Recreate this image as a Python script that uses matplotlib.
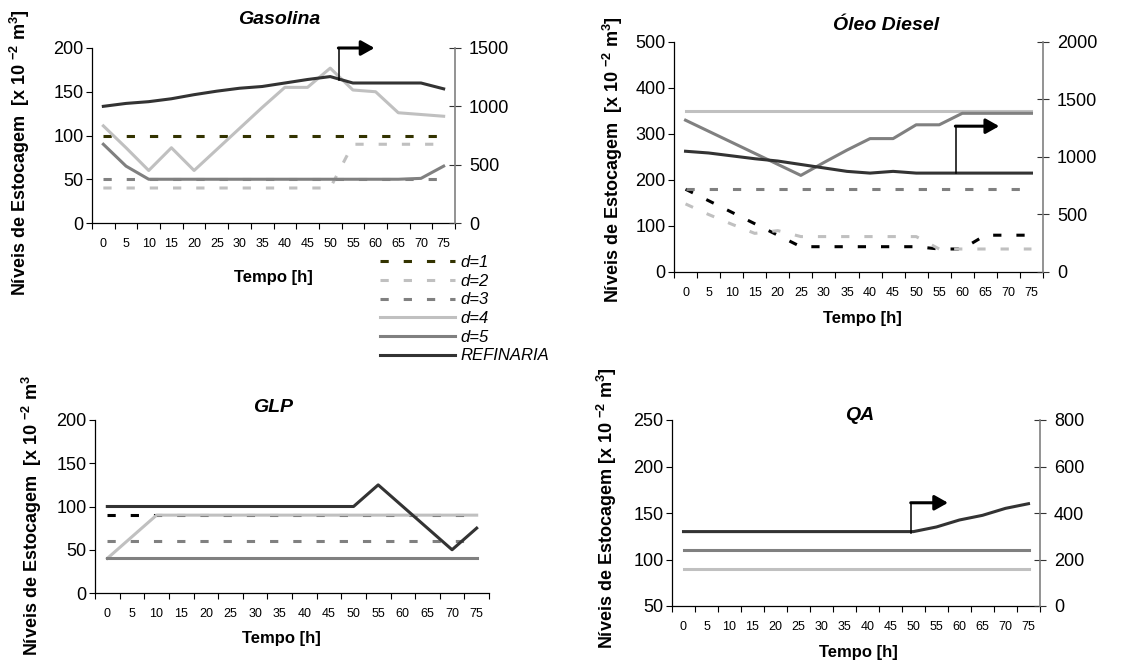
import numpy as np
import matplotlib
matplotlib.use("Agg")
import matplotlib.pyplot as plt

plt.rcParams["font.family"] = ["Liberation Sans", "DejaVu Sans"]
plt.rcParams["mathtext.fontset"] = "custom"
plt.rcParams["mathtext.rm"] = "Liberation Sans:bold"
plt.rcParams["mathtext.bf"] = "Liberation Sans:bold"
plt.rcParams["mathtext.default"] = "bf"

# ---- data ----
tempo = ["0", "5", "10", "15", "20", "25", "30", "35", "40", "45", "50", "55", "60", "65", "70", "75"]

gas_d1 = [100, 100, 100, 100, 100, 100, 100, 100, 100, 100, 100, 100, 100, 100, 100, 100]
gas_d2 = [40, 40, 40, 40, 40, 40, 40, 40, 40, 40, 40, 90, 90, 90, 90, 90]
gas_d3 = [50, 50, 50, 50, 50, 50, 50, 50, 50, 50, 50, 50, 50, 50, 50, 50]
gas_d4 = [111, 86, 60, 86, 60, 84, 108, 132, 155, 155, 177, 152, 150, 126, 124, 122]
gas_d5 = [90, 65, 50, 50, 50, 50, 50, 50, 50, 50, 50, 50, 50, 50, 51, 65]
gas_ref = [1000, 1025, 1040, 1065, 1100, 1130, 1155, 1170, 1200, 1230, 1255, 1200, 1200, 1200, 1200, 1150]

die_d1 = [180, 155, 130, 105, 80, 55, 55, 55, 55, 55, 55, 50, 50, 80, 80, 80]
die_d2 = [148, 125, 104, 84, 90, 77, 77, 77, 77, 77, 77, 50, 50, 50, 50, 50]
die_d3 = [180, 180, 180, 180, 180, 180, 180, 180, 180, 180, 180, 180, 180, 180, 180, 180]
die_d4 = [350, 350, 350, 350, 350, 350, 350, 350, 350, 350, 350, 350, 350, 350, 350, 350]
die_d5 = [330, 306, 282, 258, 234, 210, 238, 265, 290, 290, 320, 320, 345, 345, 345, 345]
die_ref = [1050, 1035, 1010, 985, 965, 935, 905, 875, 860, 875, 860, 860, 860, 860, 860, 860]

glp_d1 = [90, 90, 90, 90, 90, 90, 90, 90, 90, 90, 90, 90, 90, 90, 90, 90]
glp_d3 = [60, 60, 60, 60, 60, 60, 60, 60, 60, 60, 60, 60, 60, 60, 60, 60]
glp_d4 = [40, 65, 90, 90, 90, 90, 90, 90, 90, 90, 90, 90, 90, 90, 90, 90]
glp_d5 = [40, 40, 40, 40, 40, 40, 40, 40, 40, 40, 40, 40, 40, 40, 40, 40]
glp_ref = [100, 100, 100, 100, 100, 100, 100, 100, 100, 100, 100, 125, 100, 75, 50, 75]

qa_d4 = [90, 90, 90, 90, 90, 90, 90, 90, 90, 90, 90, 90, 90, 90, 90, 90]
qa_d5 = [110, 110, 110, 110, 110, 110, 110, 110, 110, 110, 110, 110, 110, 110, 110, 110]
qa_ref = [320, 320, 320, 320, 320, 320, 320, 320, 320, 320, 320, 340, 370, 390, 420, 440]

# ---- styles ----
C_D1 = "#333300"
C_LIGHT = "#c0c0c0"
C_MID = "#808080"
C_REF = "#333333"
LW = 2.2
DASH = (0, (2.7, 4.9))
FS_TICK = 13
FS_XTICK = 9
FS_TITLE = 14
FS_XLAB = 12
FS_YLAB = 13

W, H = 1143, 664
fig = plt.figure(figsize=(W / 100, H / 100), dpi=100)
x = np.arange(len(tempo))

ylab = r"Níveis de Estocagem  [x 10 $^{-2}$ m$^{3}$]"


def rect(x0, x1, ytop, ybot):
    return [x0 / W, 1 - ybot / H, (x1 - x0) / W, (ybot - ytop) / H]


def setup(ax, ylim, yticks):
    ax.set_xlim(-0.5, len(tempo) - 0.5)
    ax.set_xticks(np.arange(len(tempo) + 1) - 0.5)
    ax.set_xticks(x, minor=True)
    ax.set_xticklabels(tempo, minor=True)
    ax.tick_params(axis="x", which="major", length=4.5, width=0.8, labelbottom=False)
    ax.tick_params(axis="x", which="minor", length=0, pad=11, labelsize=FS_XTICK)
    ax.set_ylim(*ylim)
    ax.set_yticks(yticks)
    ax.tick_params(axis="y", length=4, width=0.8, pad=2, labelsize=FS_TICK)
    for s in ["top", "right"]:
        ax.spines[s].set_visible(False)
    for s in ["left", "bottom"]:
        ax.spines[s].set_linewidth(0.9)


def twin(ax, ylim, yticks):
    ax2 = ax.twinx()
    ax2.set_ylim(*ylim)
    ax2.set_yticks(yticks)
    for s in ["top", "left", "bottom"]:
        ax2.spines[s].set_visible(False)
    ax2.spines["right"].set_color(C_MID)
    ax2.spines["right"].set_linewidth(1.2)
    ax2.tick_params(axis="y", direction="inout", length=8, width=0.8, color="#333333", pad=6, labelsize=FS_TICK)
    return ax2


def arrow(ax, xv, y0, y1, xtip):
    ax.plot([xv, xv], [y0, y1], color="black", lw=1.1, clip_on=False, zorder=5)
    ax.annotate("", xy=(xtip, y1), xytext=(xv - 0.02, y1),
                arrowprops=dict(arrowstyle="-|>,head_length=0.8,head_width=0.45", lw=2.2,
                                color="black", shrinkA=0, shrinkB=0),
                annotation_clip=False, zorder=5)


# ---------------- Gasolina ----------------
ax = fig.add_axes(rect(92, 455, 48, 223))
setup(ax, (0, 200), [0, 50, 100, 150, 200])
ax.plot(x, gas_d1, color=C_D1, lw=LW, ls=DASH)
ax.plot(x, gas_d2, color=C_LIGHT, lw=LW, ls=DASH)
ax.plot(x, gas_d3, color=C_MID, lw=LW, ls=DASH)
ax.plot(x, gas_d4, color=C_LIGHT, lw=LW)
ax.plot(x, gas_d5, color=C_MID, lw=LW)
ax2 = twin(ax, (0, 1500), [0, 500, 1000, 1500])
ax2.plot(x, gas_ref, color=C_REF, lw=LW)
arrow(ax2, 10.38, 1225, 1500, 11.95)
fig.text(279 / W, 1 - 20 / H, "Gasolina", ha="center", va="center", fontsize=FS_TITLE, fontweight="bold", style="italic")
fig.text(273 / W, 1 - 277 / H, "Tempo [h]", ha="center", va="center", fontsize=FS_XLAB, fontweight="bold")
fig.text(20 / W, 1 - 153 / H, ylab, ha="center", va="center", rotation=90, fontsize=FS_YLAB, fontweight="bold")

# ---------------- Oleo Diesel ----------------
ax = fig.add_axes(rect(674, 1043, 42, 272))
setup(ax, (0, 500), [0, 100, 200, 300, 400, 500])
ax.plot(x, die_d1, color="black", lw=LW, ls=DASH)
ax.plot(x, die_d2, color=C_LIGHT, lw=LW, ls=DASH)
ax.plot(x, die_d3, color=C_MID, lw=LW, ls=DASH)
ax.plot(x, die_d4, color=C_LIGHT, lw=LW)
ax.plot(x, die_d5, color=C_MID, lw=LW)
ax2 = twin(ax, (0, 2000), [0, 500, 1000, 1500, 2000])
ax2.plot(x, die_ref, color=C_REF, lw=LW)
arrow(ax2, 11.72, 860, 1268, 13.6)
fig.text(886 / W, 1 - 25 / H, "Óleo Diesel", ha="center", va="center", fontsize=FS_TITLE, fontweight="bold", style="italic")
fig.text(862 / W, 1 - 318 / H, "Tempo [h]", ha="center", va="center", fontsize=FS_XLAB, fontweight="bold")
fig.text(613 / W, 1 - 160 / H, ylab, ha="center", va="center", rotation=90, fontsize=FS_YLAB, fontweight="bold")

# ---------------- GLP ----------------
ax = fig.add_axes(rect(95, 489, 420, 593))
setup(ax, (0, 200), [0, 50, 100, 150, 200])
ax.plot(x, glp_d1, color="black", lw=LW, ls=DASH)
ax.plot(x, glp_d3, color=C_MID, lw=LW, ls=DASH)
ax.plot(x, glp_d4, color=C_LIGHT, lw=LW)
ax.plot(x, glp_d5, color=C_MID, lw=LW)
ax.plot(x, glp_ref, color=C_REF, lw=LW)
fig.text(273 / W, 1 - 407 / H, "GLP", ha="center", va="center", fontsize=FS_TITLE, fontweight="bold", style="italic")
fig.text(281 / W, 1 - 638 / H, "Tempo [h]", ha="center", va="center", fontsize=FS_XLAB, fontweight="bold")
fig.text(32 / W, 1 - 516 / H, r"Níveis de Estocagem  [x 10 $^{-2}$ m$^{3}$",
         ha="center", va="center", rotation=90, fontsize=FS_YLAB, fontweight="bold")

# ---------------- QA ----------------
ax = fig.add_axes(rect(672, 1040, 420, 606))
setup(ax, (50, 250), [50, 100, 150, 200, 250])
ax.plot(x, qa_d4, color=C_LIGHT, lw=LW)
ax.plot(x, qa_d5, color=C_MID, lw=LW)
ax2 = twin(ax, (0, 800), [0, 200, 400, 600, 800])
ax2.plot(x, qa_ref, color=C_REF, lw=LW)
arrow(ax2, 9.9, 313, 444, 11.5)
fig.text(860 / W, 1 - 415 / H, "QA", ha="center", va="center", fontsize=FS_TITLE, fontweight="bold", style="italic")
fig.text(858 / W, 1 - 652 / H, "Tempo [h]", ha="center", va="center", fontsize=FS_XLAB, fontweight="bold")
fig.text(607 / W, 1 - 508 / H, r"Níveis de Estocagem [x 10 $^{-2}$ m$^{3}$]",
         ha="center", va="center", rotation=90, fontsize=FS_YLAB, fontweight="bold")

# ---------------- legend ----------------
handles = [
    plt.Line2D([], [], color=C_D1, lw=LW, ls=DASH),
    plt.Line2D([], [], color=C_LIGHT, lw=LW, ls=DASH),
    plt.Line2D([], [], color=C_MID, lw=LW, ls=DASH),
    plt.Line2D([], [], color=C_LIGHT, lw=LW),
    plt.Line2D([], [], color=C_MID, lw=LW),
    plt.Line2D([], [], color=C_REF, lw=LW),
]
labels = ["d=1", "d=2", "d=3", "d=4", "d=5", "REFINARIA"]
fig.legend(handles, labels, loc="upper left", bbox_to_anchor=(380 / W, 1 - 255 / H),
           frameon=False, borderpad=0, borderaxespad=0, handlelength=4.5,
           handletextpad=0.35, labelspacing=0.22, prop={"size": 12, "style": "italic"})

fig.savefig("out.png", dpi=100)
